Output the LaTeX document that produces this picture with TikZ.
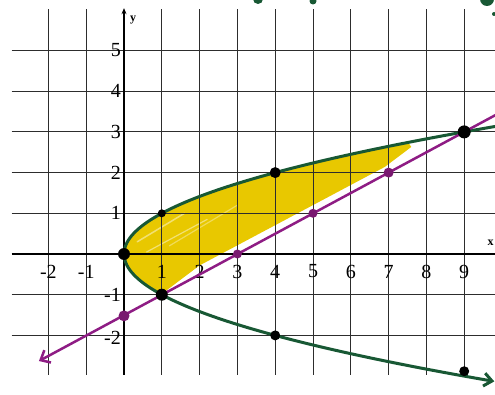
\documentclass[tikz,border=0pt]{standalone}
\usepackage{fontspec}
\setmainfont{Liberation Serif}
\usetikzlibrary{arrows.meta}
\definecolor{gridc}{RGB}{45,45,45}
\definecolor{pgreen}{RGB}{24,88,52}
\definecolor{ppurple}{RGB}{142,28,132}
\definecolor{hyellow}{RGB}{232,200,0}
\begin{document}
\begin{tikzpicture}[x=1pt,y=1pt,
  gridline/.style={gridc, line width=0.8pt},
  axisline/.style={black, line width=1.4pt},
  lbl/.style={font=\fontsize{20}{20}\selectfont, inner sep=0pt},
  axlbl/.style={font=\fontsize{12}{12}\selectfont\bfseries, inner sep=0pt},
  greencurve/.style={pgreen, line width=3pt, line cap=round},
  purpleline/.style={ppurple, line width=2.5pt, line cap=round},
  blackdot/.style={circle, fill=black, inner sep=0pt, minimum size=#1},
  purpledot/.style={circle, fill=ppurple!85!black, inner sep=0pt, minimum size=#1},
  greenblob/.style={circle, fill=pgreen, inner sep=0pt, minimum size=#1}]
\useasboundingbox (0,0) rectangle (495,394);
\clip (0,0) rectangle (495,394);
\fill[white] (0,0) rectangle (495,394);
% stray green marks at the top edge
\node[greenblob=10pt] (g1) at (258,395) {};
\node[greenblob=7pt] (g2) at (313,393) {};
\node[greenblob=14pt] (g3) at (487,395) {};
\node[greenblob=4pt] (g4) at (494,380) {};
\begin{scope}[shift={(124,140)}, x=37.8pt, y=40.7pt]
  % highlighted region
  \fill[hyellow] (1,-0.98) -- (2,-0.28) -- (6.9,2.14) -- (7.6,2.63) -- (7.52,2.74)
     -- plot[domain=2.74:-0.98, variable=\t, smooth, samples=40] ({\t*\t},\t) -- cycle;
  \draw[white, opacity=0.45, line width=1.5pt, line cap=round] (0.35,0.3) -- (1.6,1.0);
  \draw[white, opacity=0.45, line width=1.2pt, line cap=round] (0.6,0.05) -- (2.2,0.85);
  \draw[white, opacity=0.35, line width=1.2pt, line cap=round] (1.2,0.2) -- (3.0,1.2);
  % grid
  \foreach \i in {-2,-1,1,2,3,4,5,6,7,8,9} \draw[gridline] (\i,-2.97) -- (\i,6.02);
  \foreach \j in {-2,-1,1,2,3,4,5} \draw[gridline] (-2.97,\j) -- (10,\j);
  % axes
  \coordinate (ybot) at (0,-2.97);
  \coordinate (ytop) at (0,6.04);
  \coordinate (xleft) at (-2.97,0);
  \coordinate (xright) at (10,0);
  \draw[axisline, -{Stealth[length=6pt,width=5pt]}] (ybot) -- (ytop);
  \draw[axisline] (xleft) -- (xright);
  \node[axlbl] (ylab) at (0.24,5.75) {y};
  \node[axlbl] (xlab) at (9.7,0.27) {x};
  % tick labels
  \foreach \j in {1,2,3,4,5} \node[lbl, anchor=east] (ly\j) at (-0.08,\j) {\j};
  \node[lbl, anchor=east] (lym1) at (-0.08,-1) {-1};
  \node[lbl, anchor=east] (lym2) at (-0.08,-2.06) {-2};
  \foreach \i in {-2,-1,1,2,3,4,5,6,7,8,9} \node[lbl] (lx\i) at (\i,-0.43) {\i};
  % parabola x = y^2
  \draw[greencurve, {Straight Barb[length=8pt,width=13pt]}-]
     plot[domain=-3.13:3.22, variable=\t, smooth, samples=70] ({\t*\t},\t);
  % line x = 2y + 3
  \coordinate (pa) at (-2.25,-2.63);
  \coordinate (pb) at (10.3,3.65);
  \draw[purpleline, {Straight Barb[length=8pt,width=14pt]}-{Straight Barb[length=8pt,width=14pt]}] (pa) -- (pb);
  % points
  \node[purpledot=11pt] (q0) at (0,-1.52) {};
  \node[purpledot=9pt] (q3) at (3,0) {};
  \node[purpledot=9pt] (q5) at (5,1) {};
  \node[purpledot=10pt] (q7) at (7,2) {};
  \node[blackdot=12pt] (p00) at (0,0) {};
  \node[blackdot=8pt] (p11) at (1,1) {};
  \node[blackdot=12pt] (p1m) at (1,-1) {};
  \node[blackdot=11pt] (p42) at (4,2) {};
  \node[blackdot=10pt] (p4m) at (4,-2) {};
  \node[blackdot=13pt] (p93) at (9,3) {};
  \node[blackdot=10pt] (p9m) at (9,-2.88) {};
\end{scope}
\end{tikzpicture}
\end{document}
